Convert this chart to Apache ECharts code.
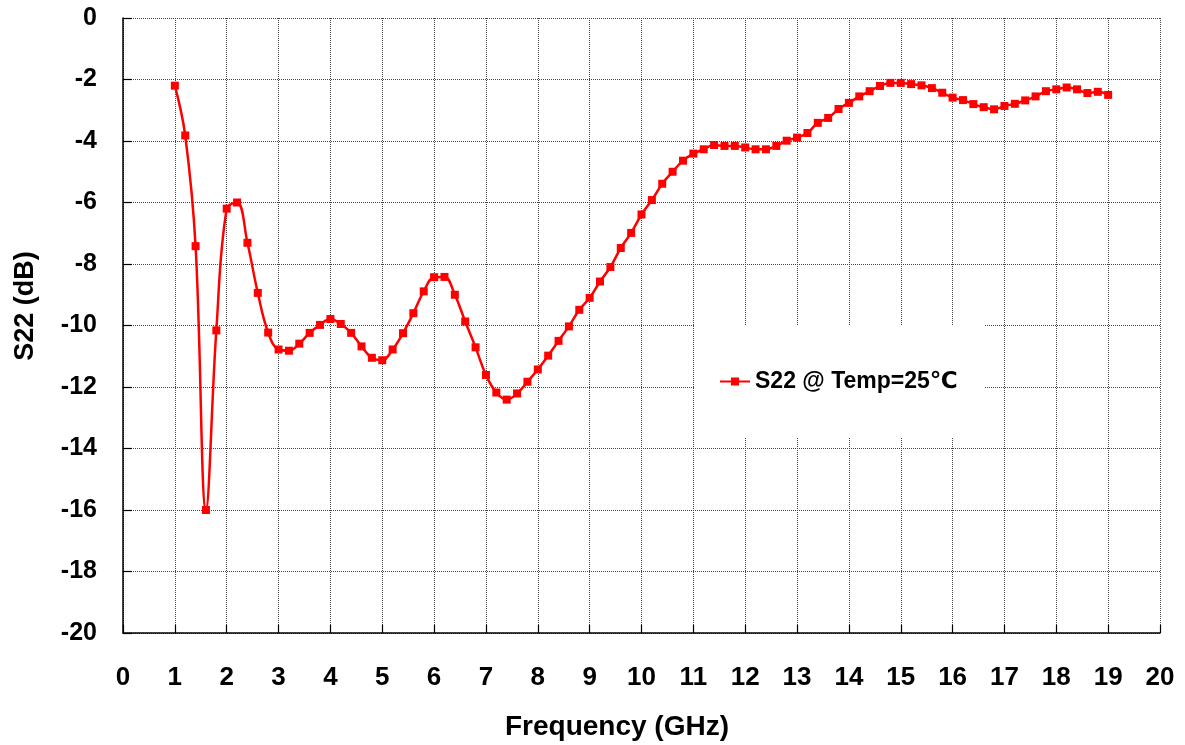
<!DOCTYPE html>
<html>
<head>
<meta charset="utf-8">
<script src="https://cdn.jsdelivr.net/npm/echarts@6/dist/echarts.min.js"></script>
<style>
html,body{margin:0;padding:0;background:#fff;}
#chart{width:1185px;height:745px;}
</style>
</head>
<body>
<div id="chart"></div>
<script>
// Frequency (GHz)
const freq = [1.0,1.2,1.4,1.6,1.8,2.0,2.2,2.4,2.6,2.8,3.0,3.2,3.4,3.6,3.8,4.0,4.2,4.4,4.6,4.8,
  5.0,5.2,5.4,5.6,5.8,6.0,6.2,6.4,6.6,6.8,7.0,7.2,7.4,7.6,7.8,8.0,8.2,8.4,8.6,8.8,
  9.0,9.2,9.4,9.6,9.8,10.0,10.2,10.4,10.6,10.8,11.0,11.2,11.4,11.6,11.8,12.0,12.2,12.4,12.6,12.8,
  13.0,13.2,13.4,13.6,13.8,14.0,14.2,14.4,14.6,14.8,15.0,15.2,15.4,15.6,15.8,16.0,16.2,16.4,16.6,16.8,
  17.0,17.2,17.4,17.6,17.8,18.0,18.2,18.4,18.6,18.8,19.0];
// S22 (dB) @ 25 C
const s22 = [-2.2,-3.82,-7.42,-16.0,-10.16,-6.2,-6.0,-7.31,-8.94,-10.23,-10.78,-10.82,-10.59,-10.24,-9.98,-9.79,-9.95,-10.24,-10.68,-11.05,
  -11.13,-10.78,-10.25,-9.6,-8.89,-8.43,-8.42,-9.0,-9.87,-10.71,-11.61,-12.18,-12.41,-12.21,-11.83,-11.43,-10.98,-10.5,-10.03,-9.49,
  -9.1,-8.57,-8.1,-7.48,-6.99,-6.39,-5.92,-5.39,-5.0,-4.64,-4.41,-4.27,-4.13,-4.16,-4.16,-4.21,-4.27,-4.27,-4.16,-3.99,
  -3.89,-3.74,-3.41,-3.25,-2.96,-2.76,-2.55,-2.38,-2.21,-2.11,-2.11,-2.15,-2.19,-2.28,-2.43,-2.59,-2.67,-2.8,-2.9,-2.97,
  -2.86,-2.79,-2.68,-2.55,-2.38,-2.32,-2.26,-2.32,-2.44,-2.4,-2.5];
const seriesName = 'S22 @ Temp=25\u2103';
const xAxisTitle = 'Frequency (GHz)';
const yAxisTitle = 'S22 (dB)';

const FONT = "'Liberation Sans', Arial, 'DejaVu Sans', sans-serif";
const chart = echarts.init(document.getElementById('chart'));
const data = freq.map((f, i) => [f, s22[i]]);

chart.setOption({
  animation: false,
  backgroundColor: '#fff',
  grid: { left: 123, right: 25, top: 18, bottom: 112, containLabel: false },
  xAxis: {
    type: 'value', min: 0, max: 20, interval: 1,
    axisLine: { show: true, onZero: false, lineStyle: { color: '#000', width: 1.5 } },
    axisTick: { show: true, inside: true, length: 8, lineStyle: { color: '#000', width: 1.2 } },
    axisLabel: { margin: 32, fontSize: 26, fontWeight: 'bold', color: '#000', fontFamily: FONT },
    splitLine: { show: true, lineStyle: { color: '#444', type: 'dotted', width: 1 } }
  },
  yAxis: {
    type: 'value', min: -20, max: 0, interval: 2,
    axisLine: { show: true, onZero: false, lineStyle: { color: '#000', width: 1.5 } },
    axisTick: { show: true, inside: true, length: 9, lineStyle: { color: '#000', width: 1.2 } },
    axisLabel: { margin: 26, fontSize: 25, fontWeight: 'bold', color: '#000', fontFamily: FONT },
    splitLine: { show: true, lineStyle: { color: '#444', type: 'dotted', width: 1 } }
  },
  legend: {
    show: true, left: 719, top: 370, padding: 0, itemGap: 0,
    itemWidth: 30, itemHeight: 10, z: 10,
    textStyle: { fontSize: 23, fontWeight: 'bold', color: '#000', fontFamily: FONT },
    data: [seriesName]
  },
  graphic: [
    { type: 'rect', z: 5, shape: { x: 695, y: 325, width: 290, height: 112 }, style: { fill: '#fff' } },
    { type: 'text', z: 5, x: 617, y: 727, style: { text: xAxisTitle, align: 'center', verticalAlign: 'middle', font: "bold 28px " + FONT, fill: '#000' } },
    { type: 'text', z: 5, x: 26, y: 306, rotation: Math.PI / 2, style: { text: yAxisTitle, align: 'center', verticalAlign: 'middle', font: "bold 27px " + FONT, fill: '#000' } }
  ],
  series: [{
    name: seriesName,
    type: 'line',
    data: data,
    smooth: 0.4,
    symbol: 'rect',
    symbolSize: 8,
    z: 8,
    lineStyle: { color: '#ff0000', width: 2.5 },
    itemStyle: { color: '#ff0000' }
  }]
});
</script>
</body>
</html>
